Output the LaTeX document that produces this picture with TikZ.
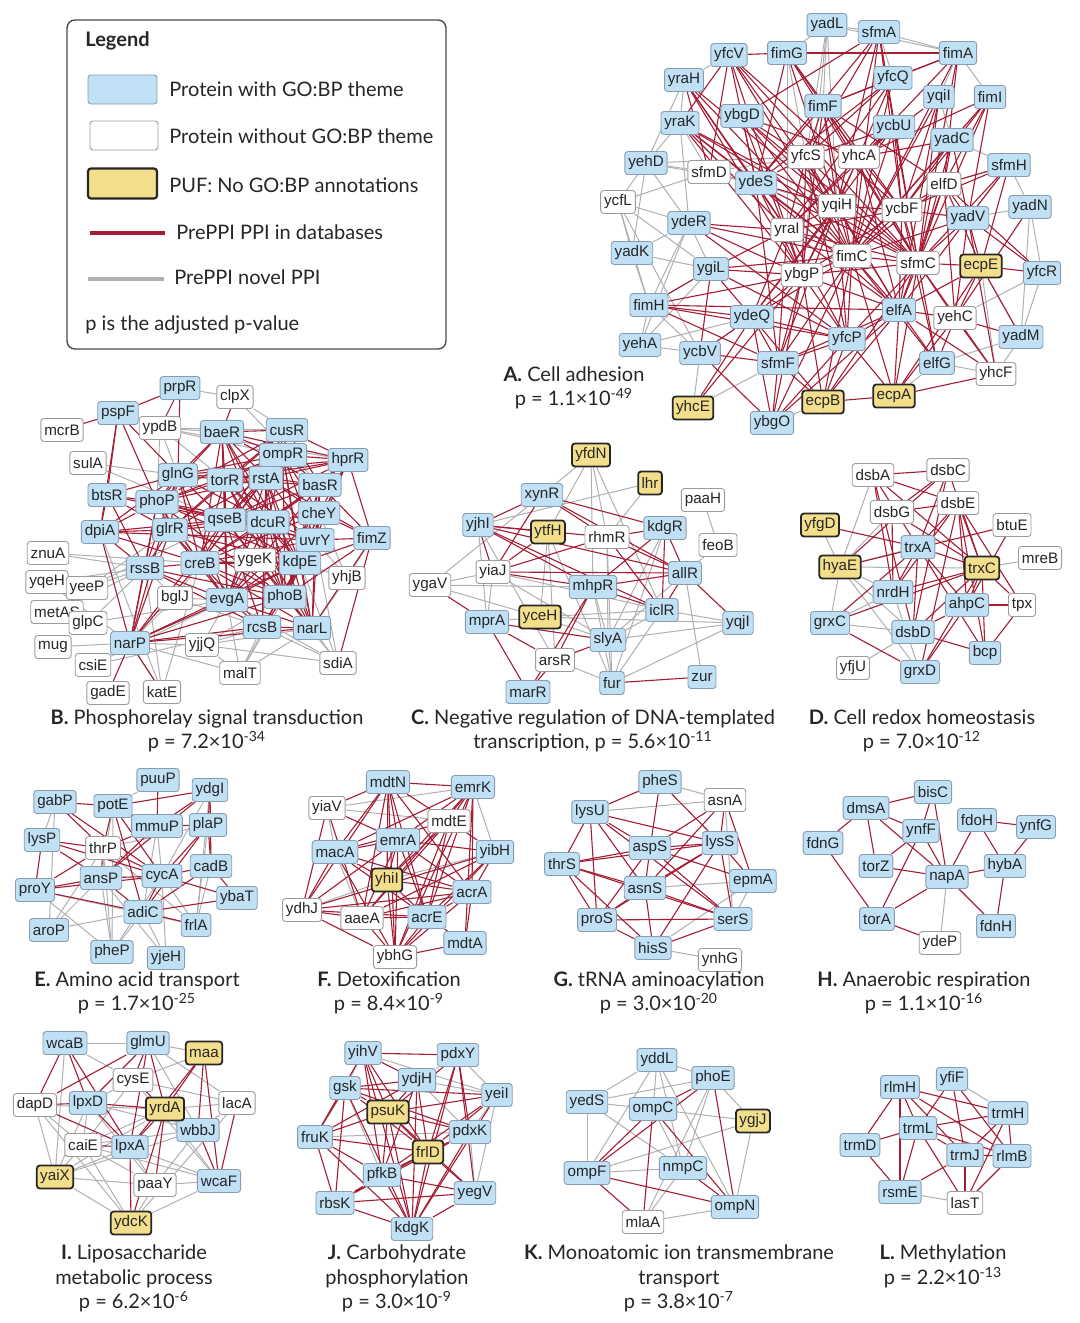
\documentclass[tikz,border=0pt]{standalone}
\usepackage{fontspec}
\setmainfont{Lato}
\newfontfamily\genefont{Liberation Sans}
\usepackage{xcolor}
\usepackage{tikz}
\usetikzlibrary{backgrounds}
\definecolor{gofill}{HTML}{C0E0F5}
\definecolor{goline}{HTML}{8A9DB0}
\definecolor{plainline}{HTML}{9C9C9C}
\definecolor{pufill}{HTML}{F3DE8C}
\definecolor{dbred}{HTML}{A51D35}
\definecolor{novelgray}{HTML}{B0B0B0}
\newcommand{\capfont}{\fontsize{10}{12.25}\selectfont}
\tikzset{
  % --- protein boxes ---------------------------------------------------------
  prot/.style={rectangle,rounded corners=1.5pt,inner xsep=1.7pt,inner ysep=0pt,
               minimum height=11.5pt,text=black!85,line width=0.45pt,
               font=\genefont\fontsize{7.6}{8}\selectfont},
  gobox/.style={prot,fill=gofill,draw=goline},      % GO:BP theme
  plainbox/.style={prot,fill=white,draw=plainline}, % no GO:BP theme
  pufbox/.style={prot,fill=pufill,draw=black!85,line width=0.9pt}, % PUF
  % --- interactions ----------------------------------------------------------
  known/.style={dbred,line width=0.55pt},
  novel/.style={novelgray,line width=0.5pt},
  % --- captions --------------------------------------------------------------
  capt/.style={align=center,font=\capfont,inner sep=0pt,text=black!85},
  legtext/.style={anchor=west,font=\capfont,inner sep=0pt,text=black!85},
}

\begin{document}
\begin{tikzpicture}[x=0.5pt, y=-0.5pt]
  \useasboundingbox (0,0) rectangle (1080,1323);

  % ===== legend =====
  \draw[black!70,line width=0.7pt,rounded corners=4pt] (67,20) rectangle (446,349);
  \node[legtext,font=\capfont\bfseries] (lg-title) at (85,41) {Legend};
  \node[gobox,minimum width=34.5pt,minimum height=14.5pt] (lg-go) at (122.5,89.5) {};
  \node[plainbox,minimum width=34pt,minimum height=14.5pt] (lg-plain) at (124,135.5) {};
  \node[pufbox,line width=1.1pt,minimum width=34.5pt,minimum height=15pt] (lg-puf) at (122.5,183.5) {};
  \draw[dbred,line width=2.2pt] (90,233) -- (165,233);
  \draw[novelgray,line width=2pt] (88,279) -- (164,279);
  \node[legtext] (lg-go-t) at (169,89) {Protein with GO:BP theme};
  \node[legtext] (lg-plain-t) at (169,136) {Protein without GO:BP theme};
  \node[legtext] (lg-puf-t) at (169,185) {PUF: No GO:BP annotations};
  \node[legtext] (lg-db-t) at (176,232) {PrePPI PPI in databases};
  \node[legtext] (lg-nv-t) at (174,277) {PrePPI novel PPI};
  \node[legtext] (lg-p-t) at (85,325) {p is the adjusted p-value};

  % ===== A. cell adhesion =====
  \foreach \n/\x/\y in {yadL/827/25,sfmA/879/32,yfcV/729/55,fimG/787/53,fimA/958/53,
      yraH/684/80,yfcQ/893/78,yqiI/939/97,fimI/990/97,fimF/823/106,ybgD/742/116,
      yraK/680/123,ycbU/894/127,yadC/952/140,yehD/646/163,sfmH/1009/165,ydeS/756/183,
      yadN/1030/207,yadV/968/218,ydeR/689/223,yadK/632/253,yfcR/1042/273,ygiL/711/269,
      fimH/649/305,elfA/899/310,ydeQ/752/317,yadM/1021/337,yehA/640/345,yfcP/847/339,
      ycbV/700/353,sfmF/778/363,elfG/937/363,ybgO/772/423}
    \node[gobox] (a-\n) at (\x,\y) {\n};
  \foreach \n/\x/\y in {yfcS/806/157,yhcA/859/157,sfmD/709/172,elfD/944/184,ycfL/618/202,
      yqiH/837/206,ycbF/902/210,yraI/787/230,fimC/852/256,sfmC/918/263,ybgP/802/275,
      yehC/955/318,yhcF/996/374}
    \node[plainbox] (a-\n) at (\x,\y) {\n};
  \foreach \n/\x/\y in {ecpE/981/266,ecpB/823/402,ecpA/894/396,yhcE/693/408}
    \node[pufbox] (a-\n) at (\x,\y) {\n};
  \node[capt] (cap-a) at (574,388) {\textbf{A.} Cell adhesion\\p = 1.1×10\textsuperscript{-49}};

  % ===== B. phosphorelay =====
  \foreach \n/\x/\y in {prpR/180/388,pspF/118/413,baeR/222/432,cusR/287/430,ompR/283/455,
      hprR/348/460,glnG/178/475,torR/225/480,rstA/266/478,basR/320/485,btsR/107/495,
      phoP/157/502,cheY/319/513,qseB/225/520,dcuR/268/522,dpiA/100/532,glrR/170/530,
      uvrY/315/540,fimZ/372/538,creB/200/563,kdpE/300/563,rssB/145/568,evgA/227/600,
      phoB/285/597,rcsB/262/627,narL/312/628,narP/130/643}
    \node[gobox] (b-\n) at (\x,\y) {\n};
  \foreach \n/\x/\y in {clpX/235/397,mcrB/62/430,ypdB/160/428,sulA/88/463,znuA/48/553,
      ygeK/255/560,yhjB/347/578,yqeH/47/582,metAS/57/612,yeeP/87/588,bglJ/175/598,
      glpC/88/623,yjjQ/202/645,mug/53/647,sdiA/338/663,csiE/93/665,malT/240/673,
      gadE/108/693,katE/162/692}
    \node[plainbox] (b-\n) at (\x,\y) {\n};
  \node[capt] (cap-b) at (207,731) {\textbf{B.} Phosphorelay signal transduction\\p = 7.2×10\textsuperscript{-34}};

  % ===== C. negative regulation =====
  \foreach \n/\x/\y in {xynR/542/495,yjhI/478/525,kdgR/665/528,allR/685/573,mhpR/593/587,
      iclR/662/610,mprA/487/622,yqjI/738/623,slyA/608/640,zur/702/677,fur/612/683,marR/528/692}
    \node[gobox] (c-\n) at (\x,\y) {\n};
  \foreach \n/\x/\y in {paaH/703/500,rhmR/607/537,feoB/718/545,yiaJ/493/572,ygaV/430/585,arsR/555/660}
    \node[plainbox] (c-\n) at (\x,\y) {\n};
  \foreach \n/\x/\y in {yfdN/591/455,lhr/650/483,ytfH/548/532,yceH/540/617}
    \node[pufbox] (c-\n) at (\x,\y) {\n};
  \node[capt] (cap-c) at (593,731) {\textbf{C.} Negative regulation of DNA-templated\\transcription, p = 5.6×10\textsuperscript{-11}};

  % ===== D. redox =====
  \foreach \n/\x/\y in {trxA/918/547,nrdH/893/592,ahpC/967/605,grxC/830/623,dsbD/913/632,
      bcp/985/653,grxD/920/672}
    \node[gobox] (d-\n) at (\x,\y) {\n};
  \foreach \n/\x/\y in {dsbA/873/475,dsbC/948/470,dsbE/958/503,dsbG/892/512,btuE/1012/525,
      mreB/1040/558,tpx/1022/605,yfjU/853/668}
    \node[plainbox] (d-\n) at (\x,\y) {\n};
  \foreach \n/\x/\y in {yfgD/820/525,hyaE/840/567,trxC/982/568}
    \node[pufbox] (d-\n) at (\x,\y) {\n};
  \node[capt] (cap-d) at (922,731) {\textbf{D.} Cell redox homeostasis\\p = 7.0×10\textsuperscript{-12}};

  % ===== E. amino acid transport =====
  \foreach \n/\x/\y in {puuP/158/780,ydgI/210/790,gabP/55/802,potE/113/806,mmuP/157/826,
      plaP/208/825,lysP/42/840,cadB/211/866,cycA/162/876,ansP/101/878,proY/35/890,
      ybaT/237/898,adiC/143/912,frlA/196/925,aroP/49/930,pheP/112/952,yjeH/166/958}
    \node[gobox] (e-\n) at (\x,\y) {\n};
  \node[plainbox] (e-thrP) at (103,848) {thrP};
  \node[capt] (cap-e) at (137,993) {\textbf{E.} Amino acid transport\\p = 1.7×10\textsuperscript{-25}};

  % ===== F. detoxification =====
  \foreach \n/\x/\y in {mdtN/388/782,emrK/473/787,emrA/398/840,macA/335/852,yibH/495/852,
      acrA/472/892,acrE/427/917,mdtA/465/943}
    \node[gobox] (f-\n) at (\x,\y) {\n};
  \foreach \n/\x/\y in {yiaV/327/808,mdtE/449/821,ydhJ/302/910,aaeA/362/918,ybhG/395/957}
    \node[plainbox] (f-\n) at (\x,\y) {\n};
  \node[pufbox] (f-yhiI) at (387,880) {yhiI};
  \node[capt] (cap-f) at (389,993) {\textbf{F.} Detoxification\\p = 8.4×10\textsuperscript{-9}};

  % ===== G. tRNA aminoacylation =====
  \foreach \n/\x/\y in {pheS/660/782,lysU/590/812,aspS/650/848,lysS/720/843,thrS/562/864,
      epmA/753/881,asnS/645/888,proS/597/920,serS/733/919,hisS/653/948}
    \node[gobox] (g-\n) at (\x,\y) {\n};
  \foreach \n/\x/\y in {asnA/725/800,ynhG/720/960}
    \node[plainbox] (g-\n) at (\x,\y) {\n};
  \node[capt] (cap-g) at (659,993) {\textbf{G.} tRNA aminoacylation\\p = 3.0×10\textsuperscript{-20}};

  % ===== H. anaerobic respiration =====
  \foreach \n/\x/\y in {bisC/933/792,dmsA/866/808,fdoH/977/820,ynfG/1036/827,ynfF/921/831,
      fdnG/823/843,torZ/876/866,hybA/1005/866,napA/947/877,torA/877/919,fdnH/996/926}
    \node[gobox] (h-\n) at (\x,\y) {\n};
  \node[plainbox] (h-ydeP) at (940,943) {ydeP};
  \node[capt] (cap-h) at (924,993) {\textbf{H.} Anaerobic respiration\\p = 1.1×10\textsuperscript{-16}};

  % ===== I. liposaccharide =====
  \foreach \n/\x/\y in {wcaB/65/1043,glmU/148/1043,lpxD/88/1103,wbbJ/198/1130,lpxA/130/1147,wcaF/219/1181}
    \node[gobox] (i-\n) at (\x,\y) {\n};
  \foreach \n/\x/\y in {cysE/133/1080,dapD/35/1105,lacA/237/1103,caiE/83/1145,paaY/155/1185}
    \node[plainbox] (i-\n) at (\x,\y) {\n};
  \foreach \n/\x/\y in {maa/204/1053,yrdA/165/1109,yaiX/55/1177,ydcK/131/1223}
    \node[pufbox] (i-\n) at (\x,\y) {\n};
  \node[capt] (cap-i) at (134,1278.5) {\textbf{I.} Liposaccharide\\metabolic process\\p = 6.2×10\textsuperscript{-6}};

  % ===== J. carbohydrate phosphorylation =====
  \foreach \n/\x/\y in {yihV/363/1053,pdxY/458/1055,ydjH/417/1080,gsk/345/1088,yeiI/497/1095,
      fruK/315/1137,pdxK/470/1132,pfkB/382/1175,yegV/475/1193,rbsK/335/1203,kdgK/412/1229}
    \node[gobox] (j-\n) at (\x,\y) {\n};
  \foreach \n/\x/\y in {psuK/388/1112,frlD/428/1152}
    \node[pufbox] (j-\n) at (\x,\y) {\n};
  \node[capt] (cap-j) at (397,1278.5) {\textbf{J.} Carbohydrate\\phosphorylation\\p = 3.0×10\textsuperscript{-9}};

  % ===== K. ion transport =====
  \foreach \n/\x/\y in {yddL/657/1060,phoE/713/1078,yedS/587/1102,ompC/653/1109,ompF/587/1173,
      nmpC/683/1168,ompN/735/1207}
    \node[gobox] (k-\n) at (\x,\y) {\n};
  \node[plainbox] (k-mlaA) at (643,1222) {mlaA};
  \node[pufbox] (k-ygjJ) at (753,1121) {ygjJ};
  \node[capt] (cap-k) at (679,1278.5) {\textbf{K.} Monoatomic ion transmembrane\\transport\\p = 3.8×10\textsuperscript{-7}};

  % ===== L. methylation =====
  \foreach \n/\x/\y in {yfiF/952/1079,rlmH/900/1087,trmH/1008/1113,trmL/918/1128,trmD/860/1145,
      trmJ/965/1155,rlmB/1012/1156,rsmE/900/1192}
    \node[gobox] (l-\n) at (\x,\y) {\n};
  \node[plainbox] (l-lasT) at (965,1203) {lasT};
  \node[capt] (cap-l) at (943,1266.5) {\textbf{L.} Methylation\\p = 2.2×10\textsuperscript{-13}};

  % ===== interactions, behind the boxes =====
  \begin{pgfonlayer}{background}
    \fill[white] (0,0) rectangle (1080,1323);
    % A
    \foreach \s/\ts in {yadL/{fimG,yfcS,fimF,yqiH,ybgP,sfmA,fimA},sfmA/{fimA,yfcQ},yfcV/{yraH},
        fimG/{yfcS,yraI},fimA/{yqiI,fimI},yraH/{yraK,yehD},yraK/{yehD,sfmD,ydeR},
        yehD/{sfmD,ycfL,ydeS,ydeR,yfcS,yadK},ycfL/{ydeR,yadK,ygiL,fimH,sfmD,ycbV},
        ydeR/{yadK,ygiL,fimH,yehA},yadK/{ygiL,fimH},fimH/{yehA,ycbV,ygiL},
        yehA/{ygiL,ydeQ,ycbV},ycbV/{yhcE,ydeQ},yhcE/{sfmF},sfmH/{yadC,yadN,yadV,elfD},
        yadN/{yadV,yfcR,yadM},yfcR/{yadM,yehC},yadM/{yhcF,elfG,ecpE},yhcF/{elfG,ecpE},
        elfG/{ecpA},ybgO/{ecpB},sfmD/{ydeS,yqiH,yfcS},yqiI/{yadC},fimI/{yadC}}
      {\foreach \t in \ts {\draw[novel] (a-\s) -- (a-\t);}}
    \foreach \s/\ts in {yfcV/{fimG,yraK,sfmD,ydeS,yqiH,yraI,ycbF,fimC,sfmC},
        fimG/{fimA,ydeS,yqiH,yhcA,sfmC,ycbF},sfmA/{ybgD,ydeS,yqiH,ycbU,ycbF,sfmC,fimC,yfcS},
        fimA/{yfcQ,fimF,yhcA,elfD,fimC,sfmC},yraH/{ydeS,yqiH,yraI,ybgP,fimC,sfmD},
        yfcQ/{fimF,yfcS,ydeS,yqiH,yraI,fimC},yqiI/{ycbF,yhcA,sfmC,fimC,elfA},
        fimI/{yhcA,elfD,ycbF,fimC,sfmC,yadV},fimF/{yfcS,yhcA,yqiH,fimC,sfmC,ybgP,elfD,ydeS},
        ybgD/{yfcS,yhcA,ydeS,yqiH,ybgP,fimC,sfmC},yraK/{ydeS,yqiH,yraI,fimC,ybgP,sfmC},
        ycbU/{yfcS,yhcA,ycbF,yraI,fimC,sfmC,ydeQ},yadC/{yhcA,ycbF,elfD,sfmC,fimC,yadV},
        yfcS/{ydeS,yraI,fimC,sfmC,ybgP,elfA,yfcP},yhcA/{yraI,fimC,sfmC,ybgP,elfA,ycbF},
        sfmH/{elfD,ycbF,yadV,sfmC,ecpE},ydeS/{yqiH,yraI,ybgP,fimC,sfmC,sfmF,elfA},
        elfD/{ycbF,yadV,sfmC,fimC,yehC,elfA,ecpE,yfcR},
        yqiH/{ycbF,yraI,fimC,ybgP,sfmC,elfA,yfcP,sfmF,ydeQ},
        ycbF/{yraI,fimC,sfmC,ybgP,yadV,elfA,elfG},yadN/{yehC},
        yadV/{sfmC,ecpE,yfcR,fimC,yehC,elfA,yhcF},ydeR/{yraI,fimC,ybgP,yfcP},
        yraI/{fimC,ybgP,sfmC,ygiL,ydeQ,yfcP,sfmF,elfA},
        fimC/{sfmC,ybgP,ygiL,elfA,yfcP,sfmF,ydeQ,ecpB,ecpA,elfG,ybgO},
        sfmC/{ybgP,ecpE,elfA,yehC,yfcP,elfG,ecpA,ecpB,yhcF},ecpE/{yfcR,yehC,elfA,yadM,ecpA},
        ygiL/{ybgP,fimH,ydeQ,ycbV,yfcP},ybgP/{fimH,ydeQ,elfA,yfcP,sfmF,ecpB,ybgO},
        fimH/{ydeQ,elfA,yfcP,sfmF},elfA/{yehC,yfcP,sfmF,ecpB,ecpA,elfG,yhcF},
        yehC/{yadM,elfG,ecpA,yhcF},ydeQ/{sfmF,ycbV,ybgO,ecpB,yfcP},yfcP/{sfmF,ecpB,ecpA},
        ycbV/{sfmF,ybgO},sfmF/{ecpB,ybgO},ecpB/{ecpA},ecpA/{yhcF},yhcE/{ydeQ,ybgP},ybgO/{elfA,yfcP}}
      {\foreach \t in \ts {\draw[known] (a-\s) -- (a-\t);}}
    % B
    \foreach \s/\ts in {prpR/{clpX},ypdB/{baeR,glnG,torR,cusR,ompR,phoP,hprR},sulA/{glnG,qseB},
        clpX/{basR,cusR},znuA/{rssB,creB},yqeH/{narP,rssB},yeeP/{rssB,glrR,qseB},metAS/{rssB},
        glpC/{rssB,evgA},mug/{narP},csiE/{narP,rcsB,evgA},katE/{creB,narP,rssB,dpiA},
        malT/{narP,evgA,rcsB,narL,kdpE,phoB,yjjQ},yjjQ/{narP,evgA,rcsB,phoB,narL,sdiA},
        sdiA/{narL,rcsB,phoB,kdpE,uvrY,evgA},yhjB/{kdpE,uvrY,fimZ,narL,cheY},
        bglJ/{rssB,evgA,narP,creB,rcsB},ygeK/{kdpE,qseB,creB,evgA,dcuR}}
      {\foreach \t in \ts {\draw[novel] (b-\s) -- (b-\t);}}
    \foreach \s/\ts in {prpR/{pspF,glnG,ypdB},pspF/{mcrB,glnG,phoP,dpiA,btsR},clpX/{baeR},
        baeR/{cusR,ompR,hprR,glnG,torR,rstA,basR,phoP,qseB,dcuR,creB,kdpE,evgA,phoB},
        cusR/{ompR,hprR,rstA,basR,torR,phoP,qseB,glrR},
        ompR/{hprR,glnG,torR,rstA,basR,cheY,phoP,qseB,dcuR,uvrY,creB,kdpE,evgA,phoB,narL},
        hprR/{rstA,basR,cheY,torR,glnG,qseB,dcuR,uvrY,phoB,kdpE,fimZ},
        glnG/{torR,rstA,phoP,glrR,qseB,dcuR,creB,dpiA,rssB,evgA,narP,btsR},
        torR/{rstA,basR,phoP,qseB,dcuR,glrR,creB,kdpE,evgA,phoB,uvrY,narL},
        rstA/{basR,cheY,phoP,qseB,dcuR,glrR,creB,kdpE,evgA,phoB,uvrY,fimZ,narL,rcsB},
        basR/{cheY,qseB,dcuR,uvrY,fimZ,kdpE,phoB,evgA,creB},btsR/{phoP,dpiA,glrR,qseB,rssB},
        phoP/{glrR,qseB,dcuR,dpiA,creB,kdpE,evgA,phoB,uvrY,rssB,narP},
        cheY/{dcuR,uvrY,fimZ,kdpE,evgA,phoB,narL,creB},
        qseB/{dcuR,glrR,creB,kdpE,evgA,phoB,uvrY,rcsB,narL,narP},
        dcuR/{uvrY,creB,kdpE,evgA,phoB,rcsB,narL,glrR},dpiA/{glrR,rssB,creB,narP,qseB,uvrY},
        glrR/{creB,rssB,evgA,narP,kdpE,phoB},uvrY/{fimZ,kdpE,evgA,phoB,narL,rcsB,creB},
        fimZ/{kdpE,phoB,narL,sdiA},creB/{evgA,phoB,kdpE,rcsB,narP,rssB,narL},
        kdpE/{evgA,phoB,narL,rcsB,narP},rssB/{evgA,narP,phoB,rcsB},evgA/{phoB,rcsB,narL,narP},
        phoB/{rcsB,narL,narP},rcsB/{narL,narP},narL/{narP},narP/{gadE,katE}}
      {\foreach \t in \ts {\draw[known] (b-\s) -- (b-\t);}}
    % C
    \foreach \s/\ts in {yfdN/{xynR,rhmR,mhpR,iclR,ytfH},lhr/{yjhI,rhmR},paaH/{feoB},feoB/{allR},
        yjhI/{mprA,arsR},ytfH/{yceH,arsR,fur},yiaJ/{ygaV,mprA,slyA,iclR},ygaV/{mhpR,yceH},
        mhpR/{slyA,fur},mprA/{yceH},yceH/{slyA,iclR,yqjI},kdgR/{slyA,fur},allR/{zur,slyA},
        iclR/{fur,yqjI,slyA},slyA/{yqjI,fur},yqjI/{fur},arsR/{fur},rhmR/{slyA,fur},xynR/{ygaV}}
      {\foreach \t in \ts {\draw[novel] (c-\s) -- (c-\t);}}
    \foreach \s/\ts in {xynR/{yjhI,rhmR,kdgR,yiaJ,allR},yjhI/{mhpR,ytfH,allR,yiaJ,rhmR,iclR},
        ytfH/{yiaJ},rhmR/{kdgR,allR,iclR,yiaJ},kdgR/{allR,iclR,mhpR},yiaJ/{allR,mhpR},
        mhpR/{allR,iclR,arsR,marR},allR/{iclR,yqjI},ygaV/{mprA},mprA/{marR,slyA,arsR},
        arsR/{slyA,marR},fur/{zur}}
      {\foreach \t in \ts {\draw[known] (c-\s) -- (c-\t);}}
    % D
    \foreach \s/\ts in {dsbA/{hyaE},yfgD/{hyaE},hyaE/{trxA,trxC,nrdH,grxC,dsbD,grxD},dsbG/{hyaE},
        grxC/{dsbD,nrdH},yfjU/{dsbD},trxC/{mreB},nrdH/{grxD}}
      {\foreach \t in \ts {\draw[novel] (d-\s) -- (d-\t);}}
    \foreach \s/\ts in {dsbA/{dsbC,dsbE,trxA,nrdH,dsbD,trxC},dsbC/{dsbG,trxA,dsbD,trxC,hyaE},
        dsbE/{dsbG,trxA,nrdH,ahpC,bcp,trxC,grxD,tpx},dsbG/{nrdH,trxC},yfgD/{trxA},hyaE/{btuE},
        btuE/{ahpC},trxA/{nrdH,dsbD,trxC,grxC,bcp,ahpC},trxC/{nrdH,grxC,ahpC,tpx,dsbD,grxD,bcp},
        ahpC/{tpx,grxD,dsbD},dsbD/{bcp},bcp/{tpx},grxC/{grxD}}
      {\foreach \t in \ts {\draw[known] (d-\s) -- (d-\t);}}
    % E
    \foreach \s/\ts in {gabP/{lysP,aroP},potE/{ansP,pheP,puuP},thrP/{aroP,pheP,frlA},
        ansP/{aroP,pheP,yjeH},proY/{pheP,frlA},aroP/{adiC},adiC/{pheP,yjeH},
        cycA/{pheP,yjeH,frlA},mmuP/{adiC,cycA},plaP/{frlA,thrP},ydgI/{frlA,cycA},cadB/{frlA}}
      {\foreach \t in \ts {\draw[novel] (e-\s) -- (e-\t);}}
    \foreach \s/\ts in {gabP/{potE,thrP,cycA},potE/{mmuP,thrP,ydgI,cycA,adiC},puuP/{mmuP},
        ydgI/{mmuP,plaP,cadB,ansP},mmuP/{plaP,thrP,ansP},plaP/{cycA,adiC,cadB},
        lysP/{thrP,ansP,proY,cycA},thrP/{ansP,cycA,proY},ansP/{cycA,proY,adiC},
        cycA/{adiC,cadB,proY,ybaT},cadB/{adiC,ybaT},adiC/{ybaT,proY,frlA}}
      {\foreach \t in \ts {\draw[known] (e-\s) -- (e-\t);}}
    % F
    \foreach \s/\ts in {yiaV/{macA,emrK,mdtE},emrK/{yibH},ydhJ/{yhiI},yibH/{yhiI},macA/{aaeA}}
      {\foreach \t in \ts {\draw[novel] (f-\s) -- (f-\t);}}
    \foreach \s/\ts in {mdtN/{emrK,yiaV,macA,emrA,yhiI,mdtE,acrE,aaeA,ybhG,ydhJ,acrA},
        emrK/{mdtE,emrA,macA,yhiI,acrA,acrE,aaeA,ybhG,mdtA},yiaV/{emrA,ydhJ,aaeA},
        mdtE/{macA,yibH,yhiI,acrE,aaeA,ybhG},emrA/{macA,yibH,yhiI,acrA,acrE,ydhJ,aaeA,ybhG},
        macA/{yhiI,acrA,acrE,ydhJ,ybhG},yibH/{acrA,acrE,aaeA,ybhG,ydhJ},yhiI/{acrA,acrE,ybhG},
        acrA/{acrE,aaeA,ydhJ,ybhG,mdtA},ydhJ/{aaeA,acrE,ybhG},aaeA/{acrE,ybhG},
        acrE/{ybhG,mdtA},mdtA/{ybhG}}
      {\foreach \t in \ts {\draw[known] (f-\s) -- (f-\t);}}
    % G
    \foreach \s/\ts in {pheS/{asnA},lysU/{asnA},asnS/{epmA},epmA/{serS,hisS},hisS/{ynhG},asnA/{serS}}
      {\foreach \t in \ts {\draw[novel] (g-\s) -- (g-\t);}}
    \foreach \s/\ts in {pheS/{lysU,aspS,lysS},lysU/{thrS,proS,aspS,asnS,lysS,serS},
        thrS/{aspS,lysS,asnS,serS,proS,hisS},aspS/{lysS,epmA,serS,proS,asnS},
        lysS/{asnS,asnA,hisS,epmA,serS,proS},asnS/{serS,proS,hisS,asnA},asnA/{epmA,aspS},
        serS/{proS,hisS},proS/{hisS}}
      {\foreach \t in \ts {\draw[known] (g-\s) -- (g-\t);}}
    % H
    \draw[novel] (h-napA) -- (h-ydeP);
    \foreach \s/\ts in {dmsA/{bisC,fdnG,torZ,ynfF,napA},bisC/{ynfF,napA},ynfF/{torZ,torA,napA},
        fdoH/{napA,ynfG,hybA},ynfG/{hybA},hybA/{napA,fdnH},napA/{fdnH,torZ,torA},fdnG/{torA},
        torA/{ydeP}}
      {\foreach \t in \ts {\draw[known] (h-\s) -- (h-\t);}}
    % I
    \foreach \s/\ts in {wcaB/{glmU,cysE,yaiX},glmU/{maa,lacA,wbbJ},maa/{cysE},
        cysE/{lpxD,caiE,wcaF,lacA},dapD/{yrdA,yaiX,caiE,ydcK},lpxD/{caiE,wbbJ,paaY,yaiX},
        yrdA/{wcaF,caiE,yaiX},lacA/{yrdA,wbbJ,ydcK},wbbJ/{paaY,caiE,yaiX},caiE/{paaY,yaiX,ydcK},
        lpxA/{paaY,wcaF,yaiX},yaiX/{paaY,ydcK},paaY/{wcaF,ydcK},wcaF/{ydcK,caiE}}
      {\foreach \t in \ts {\draw[novel] (i-\s) -- (i-\t);}}
    \foreach \s/\ts in {wcaB/{dapD,lpxD,lpxA},glmU/{lpxD,cysE,yrdA,lpxA,dapD},
        maa/{yrdA,wbbJ,wcaF,lpxA},cysE/{yrdA},lpxD/{lpxA,yrdA},dapD/{lpxA,lpxD},
        yrdA/{lpxA,paaY,ydcK},lacA/{wcaF},lpxA/{ydcK},wbbJ/{wcaF},caiE/{lpxA}}
      {\foreach \t in \ts {\draw[known] (i-\s) -- (i-\t);}}
    % J
    \foreach \s/\ts in {yihV/{gsk,yeiI},pdxY/{ydjH,yeiI},ydjH/{yeiI,pdxK},gsk/{pfkB},
        yeiI/{pdxK,yegV},fruK/{pdxK},pdxK/{yegV,pfkB}}
      {\foreach \t in \ts {\draw[novel] (j-\s) -- (j-\t);}}
    \foreach \s/\ts in {yihV/{pdxY,ydjH,psuK,frlD,pfkB,kdgK,fruK},
        gsk/{psuK,frlD,ydjH,yeiI,pdxK,fruK,rbsK,kdgK},ydjH/{psuK,frlD,pfkB,kdgK,fruK},
        pdxY/{psuK,pdxK,frlD,kdgK,yegV},yeiI/{psuK,frlD,kdgK,pfkB},
        psuK/{fruK,pdxK,frlD,pfkB,kdgK,yegV},fruK/{frlD,pfkB,rbsK,kdgK},pdxK/{frlD,kdgK,rbsK},
        frlD/{pfkB,rbsK,kdgK,yegV},pfkB/{rbsK,kdgK,yegV},rbsK/{kdgK,yegV},yegV/{kdgK}}
      {\foreach \t in \ts {\draw[known] (j-\s) -- (j-\t);}}
    % K
    \foreach \s/\ts in {yddL/{yedS,phoE,ompC,ompF,nmpC,ompN},yedS/{phoE,ompC,ompF,nmpC},
        ompC/{ygjJ,nmpC},phoE/{ygjJ,nmpC,mlaA},ompF/{nmpC,ygjJ},ygjJ/{ompN},nmpC/{mlaA},mlaA/{ompN}}
      {\foreach \t in \ts {\draw[novel] (k-\s) -- (k-\t);}}
    \foreach \s/\ts in {phoE/{ompC,ompF,ompN},ompC/{ompF,mlaA,ompN},ompF/{ompN,mlaA},nmpC/{ompN}}
      {\foreach \t in \ts {\draw[known] (k-\s) -- (k-\t);}}
    % L
    \draw[novel] (l-yfiF) -- (l-trmH);
    \draw[novel] (l-rsmE) -- (l-lasT);
    \foreach \s/\ts in {rlmH/{trmD,trmL,trmH,rlmB,trmJ,rsmE},yfiF/{trmL,trmJ,rlmB},
        trmH/{trmL,trmJ,rlmB,lasT},trmL/{trmD,trmJ,rlmB,rsmE,lasT},trmD/{rsmE},
        trmJ/{rlmB,lasT,rsmE},rlmB/{lasT}}
      {\foreach \t in \ts {\draw[known] (l-\s) -- (l-\t);}}
  \end{pgfonlayer}
\end{tikzpicture}
\end{document}
